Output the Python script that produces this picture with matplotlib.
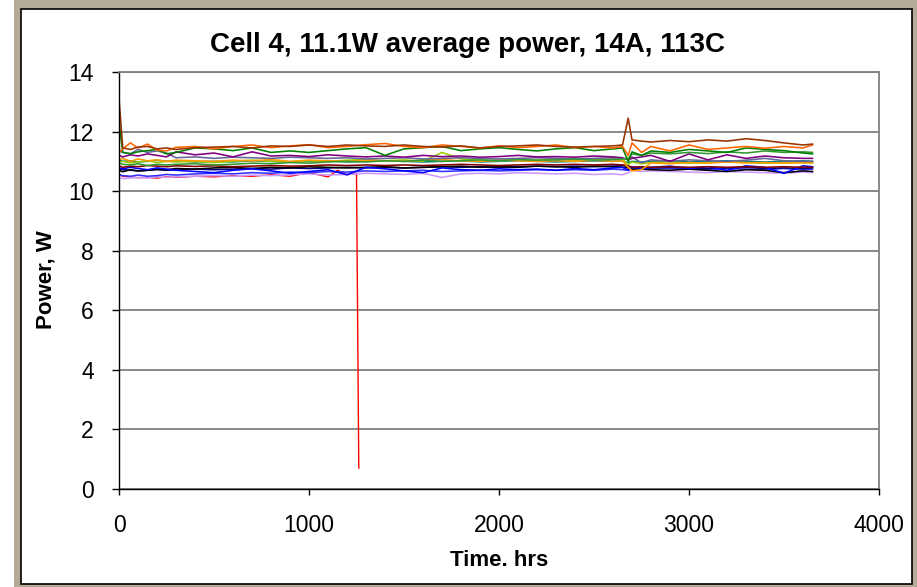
import numpy as np
import matplotlib
matplotlib.use("Agg")
import matplotlib.pyplot as plt
from matplotlib.patches import Rectangle

plt.rcParams['font.family'] = ['Liberation Sans', 'DejaVu Sans']

# --- data ---
hours = [0, 20, 60, 100, 150, 200, 250, 300, 400,
         500, 600, 700, 800, 900, 1000, 1100, 1200, 1300,
         1400, 1500, 1600, 1700, 1800, 1900, 2000, 2100, 2200,
         2300, 2400, 2500, 2600, 2650, 2680, 2700, 2750, 2800,
         2900, 3000, 3100, 3200, 3300, 3400, 3500, 3600, 3650]

brown = [13.10, 11.45, 11.40, 11.48, 11.50, 11.42, 11.45, 11.40, 11.46,
         11.48, 11.50, 11.45, 11.52, 11.50, 11.55, 11.50, 11.55, 11.52,
         11.50, 11.55, 11.50, 11.48, 11.52, 11.45, 11.50, 11.52, 11.55,
         11.50, 11.48, 11.50, 11.52, 11.55, 12.45, 11.72, 11.68, 11.65,
         11.70, 11.66, 11.72, 11.68, 11.76, 11.70, 11.62, 11.55, 11.58]

orange = [11.30, 11.42, 11.62, 11.45, 11.58, 11.38, 11.35, 11.47, 11.50,
          11.42, 11.50, 11.55, 11.46, 11.52, 11.56, 11.46, 11.50, 11.56,
          11.60, 11.50, 11.46, 11.55, 11.50, 11.45, 11.52, 11.46, 11.50,
          11.55, 11.46, 11.50, 11.45, 11.50, 11.20, 11.62, 11.30, 11.50,
          11.35, 11.55, 11.40, 11.45, 11.50, 11.44, 11.50, 11.45, 11.55]

green = [12.30, 11.30, 11.26, 11.32, 11.36, 11.40, 11.25, 11.30, 11.45,
         11.42, 11.36, 11.45, 11.30, 11.35, 11.30, 11.36, 11.42, 11.46,
         11.20, 11.42, 11.46, 11.50, 11.36, 11.42, 11.46, 11.40, 11.35,
         11.42, 11.46, 11.36, 11.42, 11.45, 11.00, 11.32, 11.20, 11.35,
         11.30, 11.40, 11.35, 11.30, 11.45, 11.40, 11.36, 11.28, 11.25]

green2 = [10.95, 10.90, 10.88, 10.92, 10.86, 10.90, 10.88, 10.90, 10.92,
          10.88, 10.90, 10.94, 10.92, 10.96, 10.94, 10.98, 11.00, 10.98,
          11.02, 11.00, 11.04, 11.00, 11.02, 11.05, 11.02, 11.06, 11.04,
          11.05, 11.08, 11.04, 11.06, 11.08, 11.10, 11.25, 11.20, 11.28,
          11.25, 11.30, 11.26, 11.32, 11.28, 11.35, 11.30, 11.32, 11.30]

purple = [11.20, 11.15, 11.22, 11.18, 11.25, 11.20, 11.15, 11.32, 11.22,
          11.28, 11.15, 11.32, 11.18, 11.20, 11.16, 11.22, 11.18, 11.15,
          11.18, 11.14, 11.20, 11.16, 11.18, 11.14, 11.16, 11.20, 11.15,
          11.16, 11.14, 11.18, 11.15, 11.12, 11.05, 11.10, 11.15, 11.20,
          11.00, 11.25, 11.05, 11.22, 11.10, 11.18, 11.12, 11.10, 11.10]

slate = [11.35, 11.30, 11.25, 11.40, 11.30, 11.35, 11.28, 11.12, 11.15,
         11.10, 11.14, 11.12, 11.10, 11.14, 11.12, 11.10, 11.12, 11.08,
         11.10, 11.12, 11.08, 11.10, 11.12, 11.10, 11.08, 11.10, 11.12,
         11.10, 11.08, 11.10, 11.12, 11.10, 11.08, 11.15, 10.95, 11.05,
         11.00, 11.05, 11.02, 11.00, 11.04, 11.10, 11.02, 11.00, 11.00]

teal = [11.05, 11.00, 11.02, 10.98, 11.00, 11.04, 11.00, 11.02, 10.98,
        11.00, 10.98, 11.02, 11.00, 10.98, 11.00, 11.02, 10.98, 11.00,
        11.02, 11.00, 10.98, 11.00, 11.02, 10.98, 11.00, 11.02, 11.00,
        10.98, 11.00, 11.02, 11.00, 11.02, 10.95, 11.00, 10.98, 11.00,
        11.02, 10.98, 11.00, 11.02, 11.00, 10.98, 11.00, 11.02, 11.00]

gold = [11.05, 11.10, 11.00, 11.08, 11.02, 11.05, 11.00, 11.04, 11.02,
        11.00, 11.04, 11.02, 11.06, 11.00, 11.04, 11.02, 11.00, 11.04,
        11.02, 11.00, 11.04, 11.06, 11.02, 11.00, 11.04, 11.02, 11.00,
        11.02, 11.00, 11.04, 11.00, 11.02, 10.80, 10.68, 10.72, 10.95,
        10.92, 10.96, 10.94, 10.98, 10.95, 10.96, 10.94, 10.96, 10.95]

yellowgreen = [10.98, 11.00, 10.95, 10.98, 11.02, 10.96, 11.00, 10.98, 11.00,
               10.96, 11.00, 11.04, 11.00, 10.98, 11.02, 11.00, 11.04, 11.06,
               11.02, 11.05, 11.00, 11.30, 11.08, 11.04, 11.02, 11.06, 11.04,
               11.06, 11.04, 11.06, 11.08, 11.06, 10.90, 10.98, 10.92, 10.96,
               10.98, 10.94, 10.96, 10.98, 10.96, 10.94, 10.96, 10.95, 10.95]

darkred = [10.85, 10.80, 10.84, 10.82, 10.86, 10.84, 10.82, 10.85, 10.83,
           10.85, 10.82, 10.84, 10.86, 10.84, 10.85, 10.88, 10.86, 10.88,
           10.86, 10.88, 10.86, 10.88, 10.90, 10.88, 10.86, 10.88, 10.90,
           10.88, 10.90, 10.88, 10.90, 10.88, 10.85, 10.80, 10.82, 10.80,
           10.82, 10.80, 10.82, 10.80, 10.82, 10.80, 10.82, 10.80, 10.80]

black = [10.70, 10.65, 10.72, 10.68, 10.70, 10.74, 10.72, 10.76, 10.74,
         10.78, 10.80, 10.76, 10.80, 10.78, 10.82, 10.80, 10.78, 10.80,
         10.82, 10.78, 10.80, 10.82, 10.84, 10.80, 10.82, 10.80, 10.84,
         10.82, 10.80, 10.84, 10.82, 10.80, 10.78, 10.72, 10.74, 10.72,
         10.70, 10.74, 10.70, 10.66, 10.72, 10.70, 10.62, 10.68, 10.66]

navy = [10.75, 10.72, 10.70, 10.68, 10.70, 10.72, 10.70, 10.72, 10.74,
        10.72, 10.74, 10.76, 10.74, 10.78, 10.76, 10.78, 10.80, 10.78,
        10.80, 10.78, 10.80, 10.82, 10.80, 10.82, 10.80, 10.82, 10.84,
        10.82, 10.84, 10.82, 10.84, 10.86, 10.84, 10.78, 10.80, 10.78,
        10.80, 10.78, 10.76, 10.78, 10.80, 10.76, 10.78, 10.76, 10.78]

blue = [10.78, 10.75, 10.80, 10.76, 10.72, 10.78, 10.74, 10.70, 10.66,
        10.62, 10.70, 10.75, 10.68, 10.60, 10.66, 10.72, 10.55, 10.80,
        10.75, 10.68, 10.62, 10.78, 10.72, 10.70, 10.75, 10.72, 10.74,
        10.70, 10.76, 10.72, 10.78, 10.80, 10.70, 10.82, 10.76, 10.80,
        10.84, 10.76, 10.82, 10.70, 10.85, 10.80, 10.60, 10.85, 10.82]

blue2 = [10.55, 10.52, 10.50, 10.54, 10.50, 10.52, 10.56, 10.54, 10.58,
         10.60, 10.58, 10.62, 10.60, 10.64, 10.62, 10.66, 10.64, 10.68,
         10.66, 10.68, 10.70, 10.66, 10.68, 10.70, 10.68, 10.70, 10.72,
         10.70, 10.72, 10.70, 10.74, 10.72, 10.70, 10.78, 10.76, 10.78,
         10.76, 10.74, 10.72, 10.76, 10.74, 10.72, 10.76, 10.72, 10.74]

lavender = [10.45, 10.42, 10.44, 10.46, 10.44, 10.48, 10.46, 10.48, 10.50,
            10.52, 10.50, 10.54, 10.52, 10.55, 10.58, 10.54, 10.56, 10.60,
            10.58, 10.56, 10.60, 10.46, 10.58, 10.60, 10.58, 10.62, 10.60,
            10.58, 10.60, 10.56, 10.58, 10.55, 10.62, 10.70, 10.66, 10.68,
            10.66, 10.64, 10.62, 10.66, 10.64, 10.62, 10.60, 10.64, 10.62]

# the red cell fails at ~1260 h
red_hours = [0, 20, 60, 100, 150, 200, 250, 300, 400, 500,
             600, 700, 800, 900, 1000, 1100, 1150, 1200, 1250, 1262]
red_power = [10.55, 10.50, 10.48, 10.45, 10.46, 10.44, 10.48, 10.46, 10.50, 10.48,
             10.52, 10.50, 10.55, 10.50, 10.62, 10.48, 10.70, 10.55, 10.60, 0.70]

series = [
    (lavender, '#cc99ff'),
    (blue2, '#3333ff'),
    (navy, '#000080'),
    (black, '#000000'),
    (blue, '#0000ff'),
    (darkred, '#800000'),
    (teal, '#008080'),
    (yellowgreen, '#99cc00'),
    (gold, '#ff9900'),
    (slate, '#666699'),
    (purple, '#800080'),
    (green2, '#339933'),
    (green, '#008000'),
    (orange, '#ff6600'),
    (brown, '#993300'),
]

fig = plt.figure(figsize=(9.17, 5.87), dpi=100)

# Excel-style frame around the chart
W, H = 917.0, 587.0
fig.add_artist(Rectangle((14 / W, 0), (W - 14) / W, 1, transform=fig.transFigure,
                         facecolor='#b4aa97', edgecolor='none', zorder=-10))
fig.add_artist(Rectangle((21 / W, 3 / H), 891 / W, 575 / H, transform=fig.transFigure,
                         facecolor='white', edgecolor='black', linewidth=1.2, zorder=-9))

ax = fig.add_axes([119 / W, (H - 489) / H, 760 / W, 417 / H])

ax.plot(red_hours, red_power, color='#ff0000', lw=1.0)
for vals, col in series:
    ax.plot(hours, vals, color=col, lw=1.15)

ax.set_xlim(0, 4000)
ax.set_ylim(0, 14)
ax.set_xticks([0, 1000, 2000, 3000, 4000])
ax.set_yticks(range(0, 15, 2))
ax.yaxis.grid(True, color='#808080', lw=1.3)
ax.set_axisbelow(True)

ax.tick_params(axis='x', direction='out', length=4, width=1, labelsize=16.5, pad=14)
ax.tick_params(axis='y', direction='out', length=5, width=1, labelsize=16.5, pad=13)

for side in ['top', 'right']:
    ax.spines[side].set_color('#808080')
    ax.spines[side].set_linewidth(1.3)
for side in ['left', 'bottom']:
    ax.spines[side].set_color('black')
    ax.spines[side].set_linewidth(1.0)

fig.text(467 / W, 1 - 45 / H, 'Cell 4, 11.1W average power, 14A, 113C',
         ha='center', va='center', fontsize=20, fontweight='bold')
fig.text(499 / W, 1 - 560 / H, 'Time. hrs', ha='center', va='center',
         fontsize=16, fontweight='bold')
fig.text(46 / W, 1 - 280 / H, 'Power, W', ha='center', va='center',
         rotation=90, fontsize=16, fontweight='bold')

fig.savefig('out.png', dpi=100)
